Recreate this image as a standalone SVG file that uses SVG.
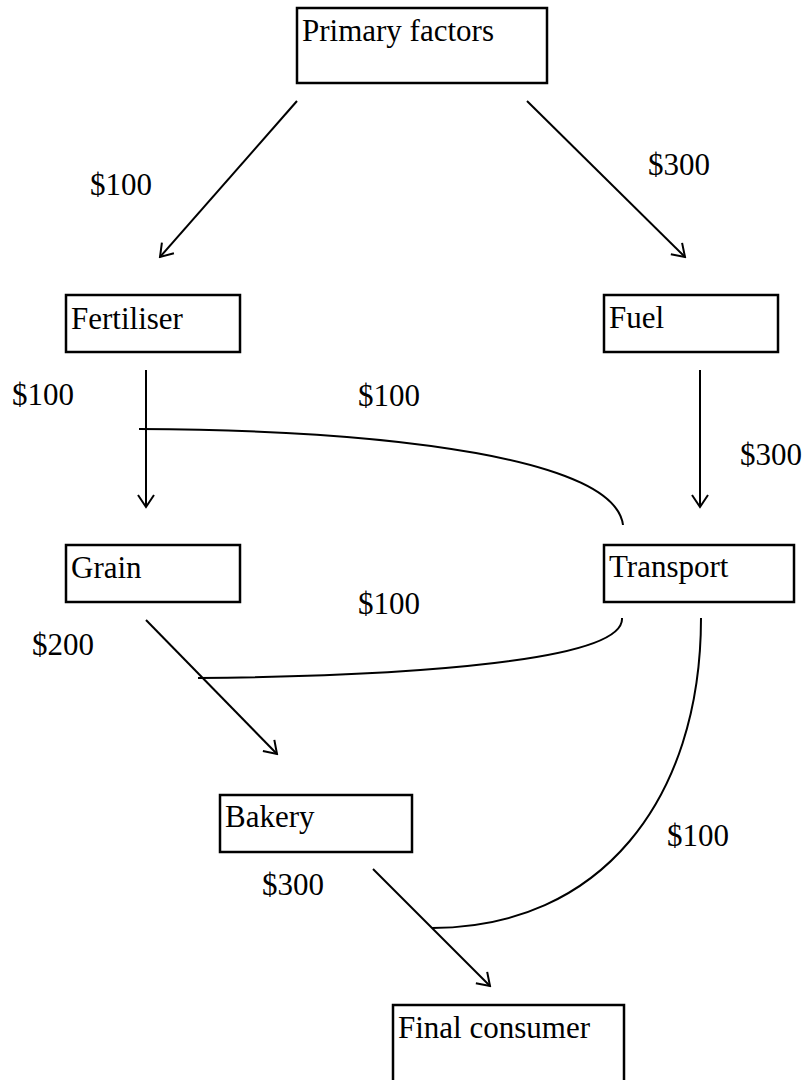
<svg xmlns="http://www.w3.org/2000/svg" width="810" height="1080" viewBox="0 0 810 1080">
<style>
.box{fill:#fff;stroke:#000;stroke-width:2.5}
.t{font-family:"Liberation Serif","Times New Roman",serif;font-size:31px;fill:#000}
.c{fill:none;stroke:#000;stroke-width:2}
</style>
<defs>
<marker id="ah" markerUnits="userSpaceOnUse" viewBox="-14 -10 16 20" refX="0" refY="0" markerWidth="16" markerHeight="20" orient="auto">
<path d="M-12,-8 L0,0 L-12,8" fill="none" stroke="#000" stroke-width="2"/>
</marker>
</defs>
<rect width="810" height="1080" fill="#fff"/>
<g id="connectors">
<line class="c" x1="297" y1="101" x2="160" y2="257" marker-end="url(#ah)"/>
<line class="c" x1="527" y1="101" x2="685" y2="257" marker-end="url(#ah)"/>
<line class="c" x1="146" y1="370" x2="146" y2="507" marker-end="url(#ah)"/>
<line class="c" x1="700" y1="370" x2="700" y2="507" marker-end="url(#ah)"/>
<line class="c" x1="146" y1="620" x2="277" y2="754" marker-end="url(#ah)"/>
<line class="c" x1="373" y1="869" x2="490" y2="986" marker-end="url(#ah)"/>
<path class="c" d="M139,429 C400,430 615,460 623,525"/>
<path class="c" d="M622,618 C625,660 420,676 198,678"/>
<path class="c" d="M701,618 C701,800 600,928 432,928"/>
<text class="t" x="90" y="195">$100</text>
<text class="t" x="648" y="175">$300</text>
<text class="t" x="12" y="405">$100</text>
<text class="t" x="358" y="406">$100</text>
<text class="t" x="740" y="465">$300</text>
<text class="t" x="358" y="614">$100</text>
<text class="t" x="32" y="655">$200</text>
<text class="t" x="667" y="846">$100</text>
<text class="t" x="262" y="895">$300</text>
</g>
<g id="primary"><rect class="box" x="297" y="8" width="250" height="75"/><text class="t" x="302" y="41">Primary factors</text></g>
<g id="fertiliser"><rect class="box" x="66" y="295" width="174" height="57"/><text class="t" x="71" y="329">Fertiliser</text></g>
<g id="fuel"><rect class="box" x="604" y="295" width="174" height="57"/><text class="t" x="609" y="328">Fuel</text></g>
<g id="grain"><rect class="box" x="66" y="545" width="174" height="57"/><text class="t" x="71" y="578">Grain</text></g>
<g id="transport"><rect class="box" x="604" y="545" width="190" height="57"/><text class="t" x="609" y="577">Transport</text></g>
<g id="bakery"><rect class="box" x="220" y="795" width="192" height="57"/><text class="t" x="225" y="827">Bakery</text></g>
<g id="final"><rect class="box" x="393" y="1005" width="231" height="90"/><text class="t" x="398" y="1038">Final consumer</text></g>
</svg>
